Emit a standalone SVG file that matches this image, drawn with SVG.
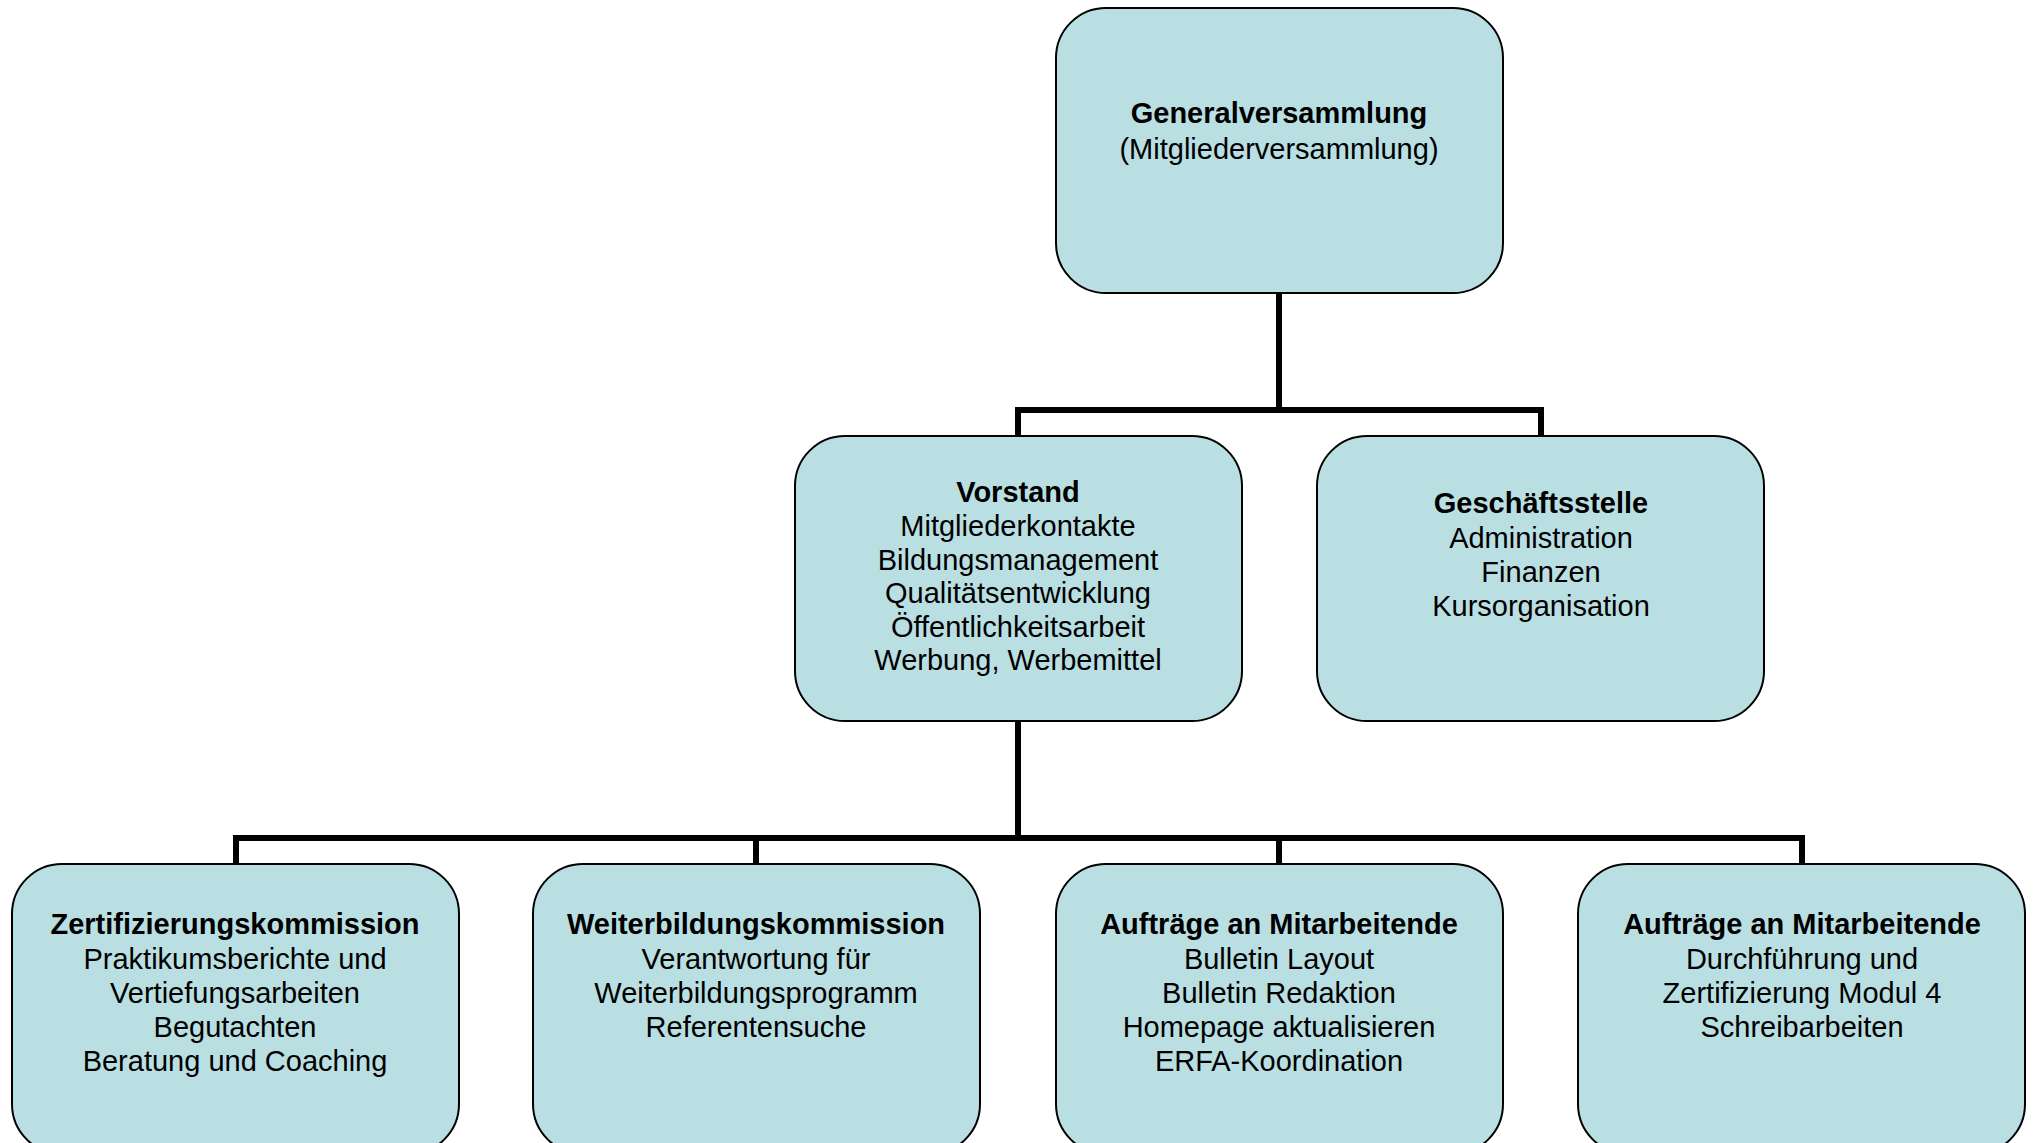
<svg xmlns="http://www.w3.org/2000/svg" width="2034" height="1143" viewBox="0 0 2034 1143">
<style>
.box{fill:#b9dfe3;stroke:#000;stroke-width:2}
text{font-family:"Liberation Sans",Arial,Helvetica,sans-serif;font-size:29px;fill:#000;text-anchor:middle}
.b{font-weight:bold}
.con{fill:none;stroke:#000;stroke-width:6;stroke-linecap:butt;stroke-linejoin:miter}
</style>
<rect width="2034" height="1143" fill="#fff"/>
<g id="connectors">
<path class="con" d="M1279 293 V410 M1018 410 H1541 M1018 407 V436 M1541 407 V436"/>
<path class="con" d="M1018 722 V838 M235 838 H1802 M236 835 V864 M756 835 V864 M1279 835 V864 M1802 835 V864"/>
</g>
<g id="generalversammlung">
<rect class="box" x="1056" y="8" width="447" height="285" rx="50"/>
<text x="1279" y="123" class="b">Generalversammlung</text>
<text x="1279" y="159">(Mitgliederversammlung)</text>
</g>
<g id="vorstand">
<rect class="box" x="795" y="436" width="447" height="285" rx="50"/>
<text x="1018" y="502" class="b">Vorstand</text>
<text x="1018" y="536">Mitgliederkontakte</text>
<text x="1018" y="570">Bildungsmanagement</text>
<text x="1018" y="603">Qualitätsentwicklung</text>
<text x="1018" y="637">Öffentlichkeitsarbeit</text>
<text x="1018" y="670">Werbung, Werbemittel</text>
</g>
<g id="geschaeftsstelle">
<rect class="box" x="1317" y="436" width="447" height="285" rx="50"/>
<text x="1541" y="513" class="b">Geschäftsstelle</text>
<text x="1541" y="548">Administration</text>
<text x="1541" y="582">Finanzen</text>
<text x="1541" y="616">Kursorganisation</text>
</g>
<g id="zertifizierungskommission">
<rect class="box" x="12" y="864" width="447" height="290" rx="50"/>
<text x="235" y="934" class="b">Zertifizierungskommission</text>
<text x="235" y="969">Praktikumsberichte und</text>
<text x="235" y="1003">Vertiefungsarbeiten</text>
<text x="235" y="1037">Begutachten</text>
<text x="235" y="1071">Beratung und Coaching</text>
</g>
<g id="weiterbildungskommission">
<rect class="box" x="533" y="864" width="447" height="290" rx="50"/>
<text x="756" y="934" class="b">Weiterbildungskommission</text>
<text x="756" y="969">Verantwortung für</text>
<text x="756" y="1003">Weiterbildungsprogramm</text>
<text x="756" y="1037">Referentensuche</text>
</g>
<g id="auftraege1">
<rect class="box" x="1056" y="864" width="447" height="290" rx="50"/>
<text x="1279" y="934" class="b">Aufträge an Mitarbeitende</text>
<text x="1279" y="969">Bulletin Layout</text>
<text x="1279" y="1003">Bulletin Redaktion</text>
<text x="1279" y="1037">Homepage aktualisieren</text>
<text x="1279" y="1071">ERFA-Koordination</text>
</g>
<g id="auftraege2">
<rect class="box" x="1578" y="864" width="447" height="290" rx="50"/>
<text x="1802" y="934" class="b">Aufträge an Mitarbeitende</text>
<text x="1802" y="969">Durchführung und</text>
<text x="1802" y="1003">Zertifizierung Modul 4</text>
<text x="1802" y="1037">Schreibarbeiten</text>
</g>
</svg>
